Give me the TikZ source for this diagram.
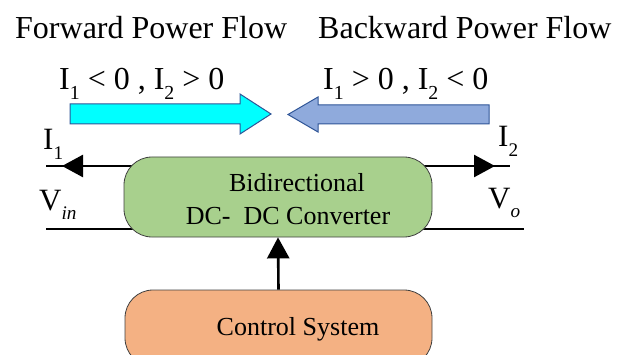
\documentclass[tikz,border=0pt]{standalone}
\usepackage{fontspec}
\setmainfont{Liberation Serif}
\usetikzlibrary{arrows.meta,backgrounds}
\definecolor{convgreen}{RGB}{168,208,141}
\definecolor{ctrlorange}{RGB}{244,177,131}
\definecolor{flowcyan}{RGB}{0,255,255}
\definecolor{flowblue}{RGB}{143,170,220}
\definecolor{edgeblue}{RGB}{47,85,151}
\newcommand{\fsz}[1]{\fontsize{#1}{#1}\selectfont}
\newcommand{\lowsub}[1]{\raisebox{-0.3em}{\scalebox{0.62}{#1}}}

\begin{document}
\begin{tikzpicture}[x=1pt,y=-1pt,
	txt/.style={inner sep=0pt,anchor=base west},
	blockbox/.style={draw=black!75,line width=0.8pt,rounded corners=28pt,inner sep=0pt},
	wire/.style={line width=2.6pt},
	tip/.style={-{Triangle[length=21pt,width=22pt]}}]
	\path[use as bounding box] (0,0) rectangle (617,355);
	\clip (0,0) rectangle (617,355);
	% titles
	\node[txt] (fwd) at (15,39) {\fsz{32}Forward Power Flow};
	\node[txt] (bwd) at (318,39) {\fsz{32}Backward Power Flow};
	\node[txt] (fwdcond) at (59,90) {\fsz{32}I\lowsub{1} < 0 , I\lowsub{2} > 0};
	\node[txt] (bwdcond) at (323,90) {\fsz{32}I\lowsub{1} > 0 , I\lowsub{2} < 0};
	% flow arrows
	\filldraw[fill=flowcyan,draw=edgeblue,line width=1pt] (70,104) -- (240,104) -- (240,94) -- (271,114) -- (240,134) -- (240,124) -- (70,124) -- cycle;
	\filldraw[fill=flowblue,draw=edgeblue,line width=1pt] (489,105) -- (318,105) -- (318,97) -- (288,114.5) -- (318,132) -- (318,124) -- (489,124) -- cycle;
	% blocks
	\node[blockbox,fill=convgreen,minimum width=308pt,minimum height=80pt] (conv) at (278,197) {};
	\node[txt,anchor=base] (convtop) at (297,191) {\fsz{26}Bidirectional};
	\node[txt,anchor=base] (convbot) at (288,224) {\fsz{26}DC-\ \ DC Converter};
	\node[blockbox,fill=ctrlorange,minimum width=307pt,minimum height=76pt] (ctrl) at (278.5,328) {};
	\node[txt,anchor=base] (ctrltxt) at (298,335) {\fsz{26}Control System};
	% wires
	\coordinate (i1end) at (46,166);
	\coordinate (i1tip) at (62,166);
	\coordinate (i2end) at (510,166);
	\coordinate (i2tip) at (495,166);
	\coordinate (vinend) at (46,229);
	\coordinate (voend) at (524,229);
	\begin{scope}[on background layer]
		\draw[wire] (conv.center |- i1end) -- (i1end);
		\draw[wire,tip] (conv.center |- i1end) -- (i1tip);
		\draw[wire] (conv.center |- i2end) -- (i2end);
		\draw[wire,tip] (conv.center |- i2end) -- (i2tip);
		\draw[wire] (vinend) -- (conv.center |- vinend);
		\draw[wire] (conv.center |- voend) -- (voend);
	\end{scope}
	\draw[wire,tip] (ctrl.north) -- (conv.south);
	% labels
	\node[txt] (i1) at (43,150) {\fsz{31}I\lowsub{1}};
	\node[txt] (i2) at (498,147) {\fsz{31}I\lowsub{2}};
	\node[txt] (vin) at (39,210) {\fsz{31}V\lowsub{\itshape in}};
	\node[txt] (vo) at (488,208) {\fsz{31}V\lowsub{\itshape o}};
\end{tikzpicture}
\end{document}
